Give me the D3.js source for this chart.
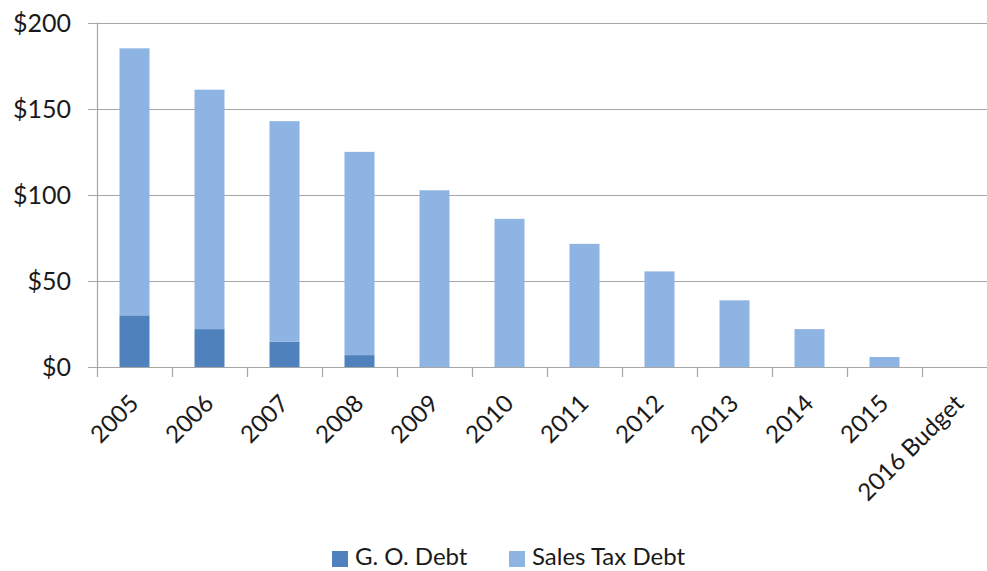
<!DOCTYPE html>
<html><head><meta charset="utf-8">
<script src="https://cdn.jsdelivr.net/npm/d3@7"></script>
<style>
html,body{margin:0;padding:0;background:#fff;}
svg{display:block;font-family:Lato,"Open Sans",sans-serif;}
</style></head>
<body><svg id="chart" width="987" height="571"></svg>
<script>
const categories = ["2005","2006","2007","2008","2009","2010","2011","2012","2013","2014","2015","2016 Budget"];
const goDebt = [30, 22, 14.7, 6.9, 0, 0, 0, 0, 0, 0, 0, 0];
const salesTaxDebt = [155, 139, 128, 118, 102.6, 86, 71.5, 55.5, 38.7, 22, 5.8, 0];
const yTicks = [0, 50, 100, 150, 200];
const seriesNames = ["G. O. Debt", "Sales Tax Debt"];
const colors = ["#4f81bd", "#8eb4e3"];

const svg = d3.select("#chart");
const x = d3.scaleBand().domain(categories).range([97, 997]).paddingInner(0.6).paddingOuter(0.3);
const y = d3.scaleLinear().domain([0, 200]).range([367, 22.5]);

// gridlines
svg.append("g").selectAll("line").data(yTicks).join("line")
  .attr("x1", 88).attr("x2", 987)
  .attr("y1", d => Math.round(y(d)) + 0.5).attr("y2", d => Math.round(y(d)) + 0.5)
  .attr("stroke", "#a6a6a6").attr("stroke-width", 1.2);

// y labels
svg.append("g").selectAll("text").data(yTicks).join("text")
  .attr("x", 71).attr("y", d => y(d)).attr("dy", "0.36em")
  .attr("text-anchor", "end").attr("font-size", 25).attr("fill", "#1a1a1a")
  .text(d => "$" + d);

// y axis line
svg.append("line").attr("x1", 97.5).attr("x2", 97.5).attr("y1", y(200)).attr("y2", y(0))
  .attr("stroke", "#a6a6a6").attr("stroke-width", 1.2);

// category ticks
const step = x.step();
const tickXs = categories.map((c, i) => 97 + i * step);
svg.append("g").selectAll("line").data(tickXs).join("line")
  .attr("x1", d => Math.round(d) + 0.5).attr("x2", d => Math.round(d) + 0.5)
  .attr("y1", y(0)).attr("y2", y(0) + 10)
  .attr("stroke", "#a6a6a6").attr("stroke-width", 1.2);

// stacked bars
const rows = categories.map((c, i) => ({cat: c, go: goDebt[i], st: salesTaxDebt[i]}));
const stack = d3.stack().keys(["go", "st"])(rows);
svg.append("g").selectAll("g").data(stack).join("g")
  .attr("fill", (d, i) => colors[i])
  .selectAll("rect").data(d => d.filter(p => p[1] - p[0] > 0)).join("rect")
  .attr("x", d => x(d.data.cat)).attr("width", x.bandwidth())
  .attr("y", d => y(d[1])).attr("height", d => y(d[0]) - y(d[1]));

// x labels
svg.append("g").selectAll("text").data(categories).join("text")
  .attr("transform", c => `translate(${x(c) + x.bandwidth() / 2 + 5.5},${405}) rotate(-45)`)
  .attr("text-anchor", "end").attr("font-size", 24).attr("fill", "#1a1a1a")
  .text(c => c);

// legend
const legX = [332, 509];
const leg = svg.append("g").selectAll("g").data(seriesNames).join("g")
  .attr("transform", (d, i) => `translate(${legX[i]},551)`);
leg.append("rect").attr("width", 16).attr("height", 16).attr("fill", (d, i) => colors[i]);
leg.append("text").attr("x", 23).attr("y", 14)
  .attr("font-size", 24).attr("fill", "#1a1a1a").text(d => d);
</script></body></html>
